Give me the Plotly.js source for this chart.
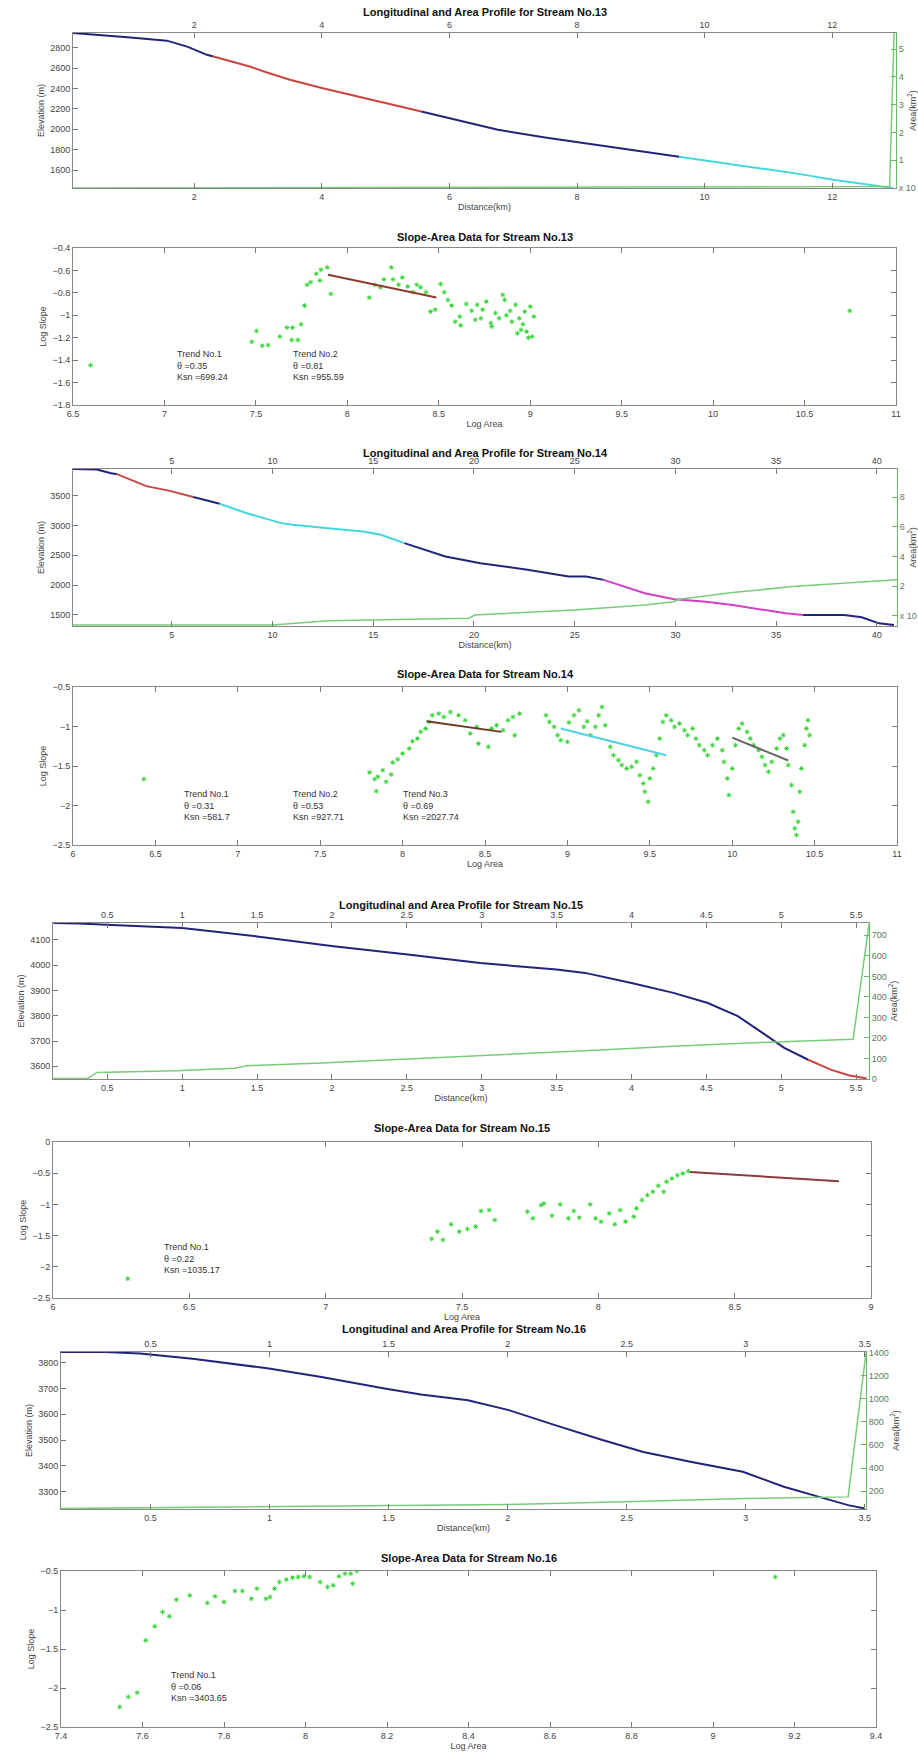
<!DOCTYPE html>
<html><head><meta charset="utf-8">
<script src="https://cdn.plot.ly/plotly-3.0.1.min.js"></script>
<style>body{margin:0;background:#fff}#chart{width:918px;height:1757px}</style>
</head><body><div id="chart"></div>
<script>
// ---------- Stream 13 longitudinal profile ----------
const s13_blue1_x = [0.1,0.5,1.0,1.57,1.89,2.2,2.3];
const s13_blue1_y = [2943,2925,2900,2868,2810,2729,2712];
const s13_red_x = [2.3,2.87,3.08,3.5,4.0,4.5,5.0,5.56];
const s13_red_y = [2712,2615,2568,2485,2404,2330,2257,2174];
const s13_blue2_x = [5.56,6.2,6.76,7.5,8.13,8.8,9.6];
const s13_blue2_y = [2174,2080,1994,1920,1863,1800,1731];
const s13_cyan_x = [9.6,10.3,10.89,11.5,12.04,12.5,12.95];
const s13_cyan_y = [1731,1670,1617,1560,1502,1460,1425];
const s13_area_x = [0.1,4,8,12.9,12.97];
const s13_area_y = [0.0,0.01,0.02,0.05,5.58];

// ---------- Stream 13 slope-area ----------
const sa13_x = [6.596,7.478,7.503,7.535,7.567,7.631,7.67,7.70,7.696,7.73,7.747,7.766,7.78,7.80,7.83,7.85,7.856,7.89,7.91,
  8.12,8.15,8.18,8.2,8.24,8.25,8.28,8.30,8.33,8.36,8.38,8.40,8.43,8.455,8.48,8.51,8.53,8.55,8.57,8.59,8.615,8.65,8.68,8.71,
  8.73,8.76,8.785,8.81,8.83,8.85,8.86,8.89,8.90,8.92,8.94,8.95,8.97,8.98,9.0,9.01,9.02,8.62,8.70,8.74,8.79,8.87,8.93,8.96,8.99,10.747];
const sa13_y = [-1.445,-1.236,-1.14,-1.272,-1.266,-1.19,-1.11,-1.11,-1.22,-1.22,-1.08,-0.913,-0.728,-0.704,-0.63,-0.69,-0.594,-0.573,-0.81,
  -0.842,-0.728,-0.75,-0.68,-0.573,-0.68,-0.728,-0.663,-0.743,-0.794,-0.728,-0.75,-0.794,-0.967,-0.95,-0.722,-0.794,-0.863,-0.913,-1.057,-1.012,-0.90,-0.96,-0.907,
  -1.027,-0.878,-1.07,-0.98,-1.027,-0.818,-0.863,-0.96,-1.057,-0.907,-1.027,-1.13,-0.967,-1.146,-0.922,-1.19,-1.012,-1.09,-1.04,-0.95,-1.1,-1.0,-1.16,-1.08,-1.2,-0.96];
const sa13_t1_x = [7.894,8.487];
const sa13_t1_y = [-0.639,-0.842];
const sa13_labels = ["Trend No.1<br>θ =0.35<br>Ksn =699.24","Trend No.2<br>θ =0.81<br>Ksn =955.59"];
const sa13_label_x = [7.06,7.69];

// ---------- Stream 14 longitudinal profile ----------
const s14_blue1_x = [0.1,1.28,1.94,2.28];
const s14_blue1_y = [3947,3940,3880,3860];
const s14_red_x = [2.28,3.74,4.9,6.07];
const s14_red_y = [3860,3660,3580,3476];
const s14_blue2_x = [6.07,7.38];
const s14_blue2_y = [3476,3364];
const s14_cyan_x = [7.38,8.69,10.43,11.0,12.77,14.5,15.38,16.55];
const s14_cyan_y = [3364,3208,3039,3011,2955,2899,2843,2703];
const s14_blue3_x = [16.55,18.58,20.33,22.66,24.7,25.57,26.44];
const s14_blue3_y = [2703,2479,2367,2255,2143,2143,2087];
const s14_mag_x = [26.44,28.48,29.94,31.4,32.85,34.3,35.47,36.34];
const s14_mag_y = [2087,1863,1762,1722,1666,1582,1526,1498];
const s14_blue4_x = [36.34,38.38,39.25,40.1,40.85];
const s14_blue4_y = [1498,1498,1459,1358,1330];
const s14_area_x = [0.1,10.0,12.77,19.75,20.05,25.0,28.5,29.9,30.2,32.85,35.8,41.0];
const s14_area_y = [-0.61,-0.61,-0.32,-0.16,0.06,0.40,0.74,0.96,1.12,1.57,1.98,2.43];

// ---------- Stream 14 slope-area ----------
const sa14_x = [6.43,7.80,7.83,7.85,7.88,7.90,7.84,7.93,7.94,7.97,8.00,8.04,8.06,8.09,8.11,8.14,8.16,8.18,8.22,8.25,8.29,8.34,8.38,8.41,8.45,8.46,8.52,8.54,8.57,8.61,8.64,8.67,8.68,8.71,
  8.87,8.89,8.92,8.94,8.96,9.0,9.01,9.04,9.07,9.10,9.12,9.14,9.17,9.19,9.21,9.23,
  9.26,9.28,9.31,9.33,9.36,9.39,9.42,9.44,9.46,9.47,9.49,9.50,9.52,9.54,9.56,9.58,9.60,9.63,9.65,9.68,9.71,9.73,9.76,9.78,9.80,9.83,9.85,9.88,9.91,9.94,9.95,9.97,9.98,
  10.0,10.02,10.04,10.06,10.09,10.11,10.13,10.16,10.18,10.20,10.22,10.24,10.27,10.29,10.31,10.33,10.34,10.36,10.37,10.38,10.39,10.40,10.41,10.42,10.44,10.45,10.46,10.47];
const sa14_y = [-1.666,-1.58,-1.666,-1.637,-1.553,-1.70,-1.818,-1.607,-1.456,-1.414,-1.342,-1.279,-1.186,-1.153,-1.068,-1.026,-0.942,-0.858,-0.837,-0.879,-0.816,-0.858,-0.921,-1.089,-1.005,-1.216,-1.258,-1.026,-0.984,-1.047,-0.921,-0.879,-1.11,-0.837,
  -0.858,-0.942,-1.005,-1.11,-1.174,-1.195,-0.95,-0.858,-0.795,-1.005,-0.934,-1.11,-1.005,-0.858,-0.753,-0.984,
  -1.258,-1.363,-1.426,-1.489,-1.532,-1.51,-1.447,-1.616,-1.721,-1.826,-1.953,-1.658,-1.532,-1.363,-1.153,-0.942,-0.858,-0.921,-1.005,-0.963,-1.047,-1.11,-1.026,-1.153,-1.237,-1.3,-1.363,-1.237,-1.153,-1.3,-1.447,-1.658,-1.868,
  -1.532,-1.237,-1.026,-0.963,-1.068,-1.153,-1.237,-1.3,-1.384,-1.489,-1.574,-1.447,-1.279,-1.153,-1.11,-1.279,-1.489,-1.742,-2.079,-2.289,-2.374,-2.205,-1.826,-1.532,-1.237,-1.026,-0.921,-1.11];
const sa14_t1_x = [8.145,8.60];
const sa14_t1_y = [-0.934,-1.068];
const sa14_t2_x = [8.96,9.60];
const sa14_t2_y = [-1.026,-1.363];
const sa14_t3_x = [10.0,10.34];
const sa14_t3_y = [-1.14,-1.43];
const sa14_labels = ["Trend No.1<br>θ =0.31<br>Ksn =581.7","Trend No.2<br>θ =0.53<br>Ksn =927.71","Trend No.3<br>θ =0.69<br>Ksn =2027.74"];
const sa14_label_x = [6.66,7.32,7.99];

// ---------- Stream 15 longitudinal profile ----------
const s15_blue_x = [0.14,0.31,0.57,1.0,1.5,2.01,2.52,2.99,3.5,3.69,4.0,4.28,4.51,4.71,4.86,5.02,5.18];
const s15_blue_y = [4166,4164,4157,4146,4113,4074,4041,4008,3982,3969,3929,3890,3850,3798,3738,3673,3626];
const s15_red_x = [5.18,5.33,5.45,5.57];
const s15_red_y = [3626,3587,3565,3552];
const s15_area_x = [0.14,0.37,0.43,0.96,1.35,1.43,1.93,2.52,3.1,3.69,4.28,4.86,5.48,5.586];
const s15_area_y = [3,3,32,40,52,65,78,97,117,138,159,178,194,755];

// ---------- Stream 15 slope-area ----------
const sa15_x = [6.274,7.389,7.41,7.43,7.46,7.49,7.52,7.55,7.57,7.60,7.62,7.74,7.76,7.79,7.80,7.83,7.86,7.89,7.91,7.93,7.97,7.99,8.01,8.04,8.06,8.08,8.10,8.13,8.14,8.16,8.18,8.20,8.22,8.24,8.25,8.27,8.29,8.31,8.33];
const sa15_y = [-2.19,-1.553,-1.436,-1.569,-1.319,-1.436,-1.394,-1.356,-1.106,-1.09,-1.25,-1.117,-1.223,-1.011,-0.984,-1.181,-1.0,-1.223,-1.106,-1.213,-1.0,-1.223,-1.277,-1.144,-1.319,-1.09,-1.277,-1.197,-1.064,-0.931,-0.851,-0.798,-0.702,-0.798,-0.638,-0.585,-0.532,-0.505,-0.468];
const sa15_t1_x = [8.336,8.882];
const sa15_t1_y = [-0.479,-0.628];
const sa15_labels = ["Trend No.1<br>θ =0.22<br>Ksn =1035.17"];
const sa15_label_x = [6.40];

// ---------- Stream 16 longitudinal profile ----------
const s16_blue_x = [0.124,0.31,0.456,0.677,0.997,1.218,1.489,1.636,1.833,2.005,2.202,2.398,2.57,2.767,2.988,3.16,3.308,3.43,3.50];
const s16_blue_y = [3841,3841,3835,3815,3777,3744,3699,3676,3654,3616,3557,3500,3454,3416,3377,3319,3280,3248,3235];
const s16_area_x = [0.124,0.997,2.005,2.497,3.0,3.43,3.505];
const s16_area_y = [49,64,84,107,136,150,1400];

// ---------- Stream 16 slope-area ----------
const sa16_x = [7.544,7.565,7.587,7.608,7.63,7.649,7.666,7.683,7.716,7.759,7.778,7.80,7.827,7.845,7.867,7.881,7.903,7.913,7.924,7.936,7.953,7.968,7.982,7.996,8.01,8.036,8.054,8.068,8.082,8.097,8.111,8.116,8.126,9.153];
const sa16_y = [-2.244,-2.115,-2.06,-1.389,-1.209,-1.026,-1.081,-0.868,-0.812,-0.91,-0.825,-0.897,-0.756,-0.756,-0.855,-0.726,-0.855,-0.833,-0.726,-0.641,-0.611,-0.585,-0.577,-0.568,-0.577,-0.641,-0.705,-0.684,-0.568,-0.534,-0.534,-0.662,-0.5,-0.577];
const sa16_labels = ["Trend No.1<br>θ =0.06<br>Ksn =3403.65"];
const sa16_label_x = [7.666];

// ---------- titles ----------
const titles = ["Longitudinal and Area Profile for Stream No.13","Slope-Area Data for Stream No.13",
  "Longitudinal and Area Profile for Stream No.14","Slope-Area Data for Stream No.14",
  "Longitudinal and Area Profile for Stream No.15","Slope-Area Data for Stream No.15",
  "Longitudinal and Area Profile for Stream No.16","Slope-Area Data for Stream No.16"];

// ================= drawing =================
const W = 918, H = 1757;
const FONT = 'Liberation Sans, Arial, sans-serif';
const NAVY = '#23237a', RED = '#cc4440', CYAN = '#40d8dc', MAG = '#d040c8', AREA = '#78cc78', PTS = '#3ad43a';
const dx = (l, r) => [l / W, r / W];
const dy = (t, b) => [1 - b / H, 1 - t / H];
// panel boxes [left, right, top, bottom]
const box = [[73,896,33,188],[73,896,248,405],[73,897,469,626],[73,897,687,845],
             [53,869,923,1079],[53,871,1142,1298],[61,866,1352,1509],[61,876,1571,1727]];

function ln(x, y, color, xa, ya, w) {
  return {type:'scatter', mode:'lines', x:x, y:y, xaxis:xa, yaxis:ya, line:{color:color, width:w || 2}, hoverinfo:'skip', showlegend:false};
}
function pts(x, y, xa, ya) {
  return {type:'scatter', mode:'markers', x:x, y:y, xaxis:xa, yaxis:ya, showlegend:false, hoverinfo:'skip',
    marker:{symbol:'asterisk-open', size:4, color:PTS, line:{width:1, color:PTS}}};
}
const tf = {family:FONT, size:9, color:'#444'};
function ax(o) {
  return Object.assign({showgrid:false, zeroline:false, showline:true, linecolor:'#888', linewidth:1,
    ticks:'inside', ticklen:5, tickcolor:'#777', tickfont:tf, automargin:false, fixedrange:true}, o);
}
function ttl(text, st) { return {text:text, font:{family:FONT, size:9, color:'#444'}, standoff:st}; }

const traces = [];
const layout = {width:W, height:H, margin:{l:0,r:0,t:0,b:0}, paper_bgcolor:'#fff', plot_bgcolor:'rgba(0,0,0,0)', showlegend:false, annotations:[]};

// profile panel builder
function profile(p, ix, xr, xd, yr, yd, y2r, y2ticks, y2text) {
  const b = box[p];
  const n1 = ix, n2 = ix + 1;
  const k1 = n1 === 1 ? '' : n1;
  layout['xaxis' + k1] = ax({domain:dx(b[0],b[1]), anchor:'y' + k1, range:xr, dtick:xd, tick0:0,
    title:ttl('Distance(km)', 2)});
  layout['yaxis' + k1] = ax({domain:dy(b[2],b[3]), anchor:'x' + k1, range:yr, dtick:yd, tick0:0,
    title:ttl('Elevation (m)', 4)});
  layout['xaxis' + n2] = ax({overlaying:'x' + k1, side:'top', anchor:'y' + n2, range:xr, dtick:xd, tick0:0, domain:dx(b[0],b[1])});
  const y2 = ax({overlaying:'y' + k1, side:'right', anchor:'x' + n2, range:y2r, domain:dy(b[2],b[3]),
    linecolor:'#66bb66', tickcolor:'#66bb66', tickfont:{family:FONT, size:9, color:'#5a7a5a'},
    title:ttl('Area(km<sup>2</sup>)', 4)});
  if (y2ticks) { y2.tickvals = y2ticks; y2.ticktext = y2text; y2.tickmode = 'array'; }
  layout['yaxis' + n2] = y2;
}
function slope(p, ix, xr, xd, yr, yd) {
  const b = box[p];
  layout['xaxis' + ix] = ax({domain:dx(b[0],b[1]), anchor:'y' + ix, range:xr, dtick:xd, tick0:0, mirror:'ticks',
    title:ttl('Log Area', 2)});
  layout['yaxis' + ix] = ax({domain:dy(b[2],b[3]), anchor:'x' + ix, range:yr, dtick:yd, tick0:0, mirror:'ticks',
    title:ttl('Log Slope', 4)});
}
function labels(ix, xs, yc, texts) {
  texts.forEach((t, i) => layout.annotations.push({xref:'x' + ix, yref:'y' + ix, x:xs[i], y:yc, text:t, showarrow:false,
    xanchor:'left', yanchor:'middle', align:'left', font:{family:FONT, size:9, color:'#333'}}));
}

// Panel 1 : Stream 13 profile (x, y, x2, y2)
profile(0, 1, [0.1,13.0], 2, [1424,2943], 200, [0,5.58], [0,1,2,3,4,5], ['x 10','1','2','3','4','5']);
traces.push(ln(s13_area_x, s13_area_y, AREA, 'x2', 'y2', 1.5));
traces.push(ln(s13_blue1_x, s13_blue1_y, NAVY, 'x', 'y'));
traces.push(ln(s13_red_x, s13_red_y, RED, 'x', 'y'));
traces.push(ln(s13_blue2_x, s13_blue2_y, NAVY, 'x', 'y'));
traces.push(ln(s13_cyan_x, s13_cyan_y, CYAN, 'x', 'y'));

// Panel 2 : Stream 13 slope-area (x3, y3)
slope(1, 3, [6.5,11], 0.5, [-1.8,-0.4], 0.2);
traces.push(pts(sa13_x, sa13_y, 'x3', 'y3'));
traces.push(ln(sa13_t1_x, sa13_t1_y, '#8e3a2c', 'x3', 'y3', 2));
labels(3, sa13_label_x, -1.445, sa13_labels);

// Panel 3 : Stream 14 profile (x4, y4, x5, y5)
profile(2, 4, [0.1,41.0], 5, [1313,3947], 500, [-0.68,9.9], [0,2,4,6,8], ['x 10','2','4','6','8']);
traces.push(ln(s14_area_x, s14_area_y, AREA, 'x5', 'y5', 1.5));
traces.push(ln(s14_blue1_x, s14_blue1_y, NAVY, 'x4', 'y4'));
traces.push(ln(s14_red_x, s14_red_y, RED, 'x4', 'y4'));
traces.push(ln(s14_blue2_x, s14_blue2_y, NAVY, 'x4', 'y4'));
traces.push(ln(s14_cyan_x, s14_cyan_y, CYAN, 'x4', 'y4'));
traces.push(ln(s14_blue3_x, s14_blue3_y, NAVY, 'x4', 'y4'));
traces.push(ln(s14_mag_x, s14_mag_y, MAG, 'x4', 'y4'));
traces.push(ln(s14_blue4_x, s14_blue4_y, NAVY, 'x4', 'y4'));

// Panel 4 : Stream 14 slope-area (x6, y6)
slope(3, 6, [6,11], 0.5, [-2.5,-0.5], 0.5);
traces.push(pts(sa14_x, sa14_y, 'x6', 'y6'));
traces.push(ln(sa14_t1_x, sa14_t1_y, '#6b3a22', 'x6', 'y6', 2));
traces.push(ln(sa14_t2_x, sa14_t2_y, '#50d0e4', 'x6', 'y6', 2));
traces.push(ln(sa14_t3_x, sa14_t3_y, '#666666', 'x6', 'y6', 2));
labels(6, sa14_label_x, -2.0, sa14_labels);

// Panel 5 : Stream 15 profile (x7, y7, x8, y8)
profile(4, 7, [0.137,5.586], 0.5, [3550,4166], 100, [0,760], null, null);
layout.yaxis8.dtick = 100; layout.yaxis8.tick0 = 0;
traces.push(ln(s15_area_x, s15_area_y, AREA, 'x8', 'y8', 1.5));
traces.push(ln(s15_blue_x, s15_blue_y, NAVY, 'x7', 'y7'));
traces.push(ln(s15_red_x, s15_red_y, RED, 'x7', 'y7'));

// Panel 6 : Stream 15 slope-area (x9, y9)
slope(5, 9, [6,9], 0.5, [-2.5,0], 0.5);
traces.push(pts(sa15_x, sa15_y, 'x9', 'y9'));
traces.push(ln(sa15_t1_x, sa15_t1_y, '#8e3b3b', 'x9', 'y9', 2));
labels(9, sa15_label_x, -1.862, sa15_labels);

// Panel 7 : Stream 16 profile (x10, y10, x11, y11)
profile(6, 10, [0.124,3.505], 0.5, [3233,3841], 100, [45,1405], null, null);
layout.yaxis11.dtick = 200; layout.yaxis11.tick0 = 0;
traces.push(ln(s16_area_x, s16_area_y, AREA, 'x11', 'y11', 1.5));
traces.push(ln(s16_blue_x, s16_blue_y, NAVY, 'x10', 'y10'));

// Panel 8 : Stream 16 slope-area (x12, y12)
slope(7, 12, [7.4,9.4], 0.2, [-2.5,-0.5], 0.5);
traces.push(pts(sa16_x, sa16_y, 'x12', 'y12'));
labels(12, sa16_label_x, -1.987, sa16_labels);

// panel titles
const titleY = [12,237,453,674,905,1128,1329,1558];
titles.forEach((t, i) => {
  const b = box[i];
  layout.annotations.push({xref:'paper', yref:'paper', x:((b[0]+b[1])/2)/W, y:1 - titleY[i]/H, text:t, showarrow:false,
    xanchor:'center', yanchor:'middle', font:{family:FONT, size:11, color:'#111', weight:'bold'}});
});

Plotly.newPlot('chart', traces, layout, {staticPlot:true, displayModeBar:false});
</script></body></html>
